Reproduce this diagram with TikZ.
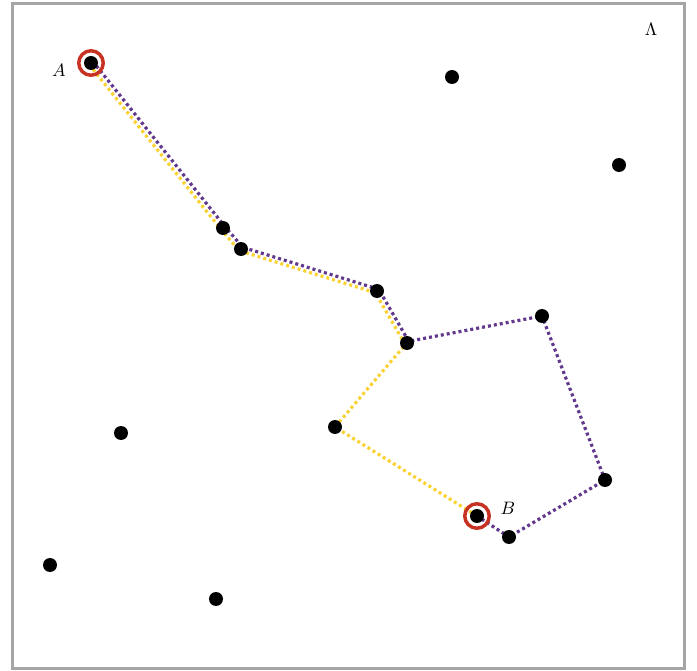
\documentclass[tikz,border=0pt]{standalone}
\usepackage{graphicx}
\begin{document}
\begin{tikzpicture}[x=1pt,y=-1pt,
  dot/.style={circle,fill=black,inner sep=0pt,minimum size=14pt},
  ring/.style={circle,draw=ringred,line width=3.5pt,inner sep=0pt,minimum size=24.5pt},
  purp/.style={draw=pathpurple,line width=3.2pt,dash pattern=on 3pt off 3pt},
  yell/.style={draw=pathyellow,line width=3.2pt,dash pattern=on 3pt off 3pt},
  lab/.style={inner sep=0pt}]
\definecolor{pathpurple}{RGB}{98,56,140}
\definecolor{pathyellow}{RGB}{250,210,50}
\definecolor{ringred}{RGB}{200,50,35}
\definecolor{framegray}{RGB}{165,165,165}
\useasboundingbox (0,0) rectangle (697,671);
\draw[framegray,line width=3pt] (12.5,3.5) rectangle (684.5,668);
% points
\coordinate (A) at (91,63);
\coordinate (p1) at (452,77);
\coordinate (p2) at (619,165);
\coordinate (p3) at (223,228);
\coordinate (p4) at (241,249);
\coordinate (p5) at (377,291);
\coordinate (p6) at (542,316);
\coordinate (p7) at (407,343);
\coordinate (p8) at (121,433);
\coordinate (p9) at (335,427);
\coordinate (p10) at (605,480);
\coordinate (B) at (477,516);
\coordinate (p11) at (509,537);
\coordinate (p12) at (50,565);
\coordinate (p13) at (216,599);
% paths
\draw[yell] ([shift={(-1.7,1.7)}]A) -- ([shift={(-1.7,1.7)}]p3) -- ([shift={(-1.7,1.7)}]p4) -- ([shift={(-1.7,1.7)}]p5) -- ([shift={(-1.7,1.7)}]p7) -- (p9) -- (B);
\draw[purp] ([shift={(1.7,-1.7)}]A) -- ([shift={(1.7,-1.7)}]p3) -- ([shift={(1.7,-1.7)}]p4) -- ([shift={(1.7,-1.7)}]p5) -- ([shift={(1.7,-1.7)}]p7) -- (p6) -- (p10) -- (p11) -- (B);
% dots
\foreach \p in {A,p1,p2,p3,p4,p5,p6,p7,p8,p9,p10,B,p11,p12,p13}
  \node[dot] (d\p) at (\p) {};
\node[ring] (rA) at (A) {};
\node[ring] (rB) at (B) {};
% labels
\node[lab] (lA) at (59,70) {\scalebox{1.8}{$A$}};
\node[lab] (lB) at (508,508) {\scalebox{1.8}{$B$}};
\node[lab] (lL) at (651,29) {\scalebox{1.8}{$\Lambda$}};
\end{tikzpicture}
\end{document}
